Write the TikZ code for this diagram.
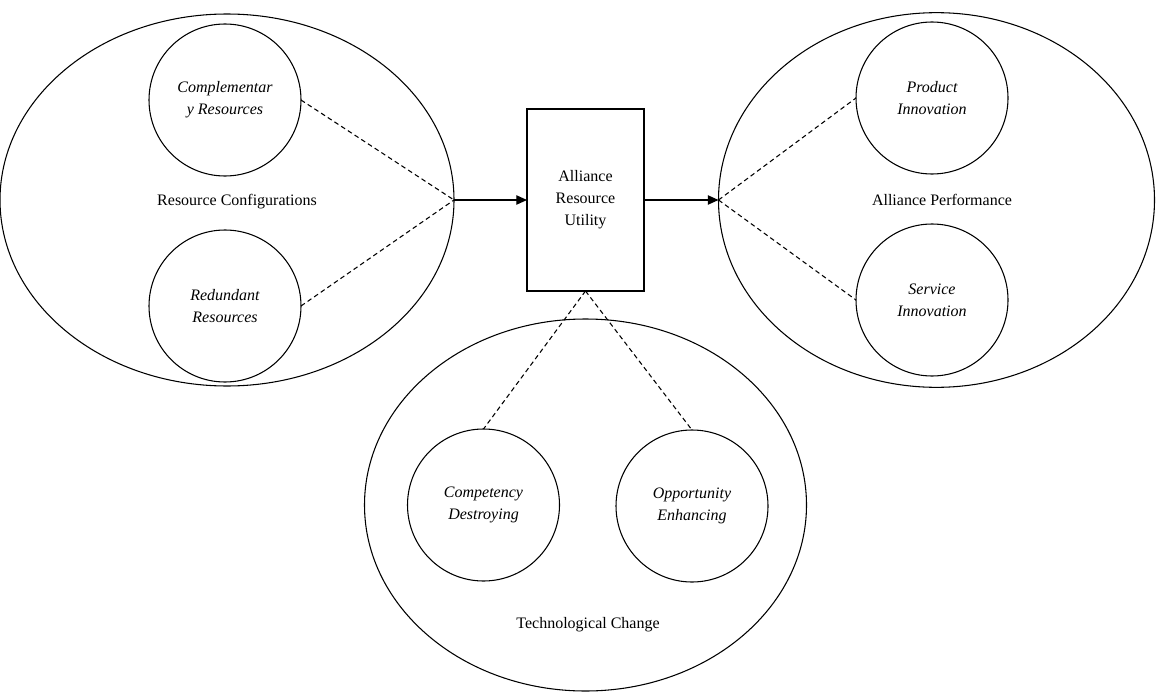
\documentclass[tikz,border=0pt]{standalone}
\usepackage{fontspec}
\setmainfont{Liberation Serif}
\usetikzlibrary{shapes.geometric,arrows.meta}

\tikzset{
  group/.style={draw, ellipse, line width=0.8pt, inner sep=0pt, outer sep=0pt},
  factor/.style={draw, circle, line width=0.8pt, minimum size=114pt, inner sep=0pt, outer sep=0pt, align=center, font=\fontsize{12}{16.5}\selectfont\itshape},
  link/.style={dashed, dash pattern=on 3.5pt off 2.5pt, line width=0.8pt},
  flow/.style={-{Triangle[length=8pt,width=7pt]}, line width=0.9pt}
}

\begin{document}
\begin{tikzpicture}[x=0.75pt, y=-0.75pt, every node/.style={font=\fontsize{12}{16.5}\selectfont}]
    \useasboundingbox (0,0) rectangle (1156,692);

    \node[group, minimum width=340.5pt, minimum height=279pt] (rescfg) at (227,200) {};
    \node[group, minimum width=327pt, minimum height=281pt] (perf) at (936.5,200) {};
    \node[group, minimum width=331.5pt, minimum height=279pt] (tech) at (585.5,505) {};

    \node[draw, rectangle, line width=1pt, minimum width=87.75pt, minimum height=136.5pt, outer sep=0pt, align=center] (util) at (585.5,200) {Alliance\\Resource\\Utility};

    \node[factor] (compl) at (225,100) {Complementar\\y Resources};
    \node[factor] (redund) at (225,306) {Redundant\\Resources};
    \node[factor] (prod) at (932,98) {Product\\Innovation};
    \node[factor] (serv) at (932,300) {Service\\Innovation};
    \node[factor] (compd) at (483.5,505) {Competency\\Destroying};
    \node[factor] (oppe) at (692,506) {Opportunity\\Enhancing};

    \node (rescfglbl) at (237,202) {Resource Configurations};
    \node (perflbl) at (942,200) {Alliance Performance};
    \node (techlbl) at (588,625) {Technological Change};

    \draw[link] (compl.east) -- (rescfg.east);
    \draw[link] (redund.east) -- (rescfg.east);
    \draw[link] (perf.west) -- (prod.west);
    \draw[link] (perf.west) -- (serv.west);
    \draw[link] (util.south) -- (compd.north);
    \draw[link] (util.south) -- (oppe.north);

    \draw[flow] (rescfg.east) -- (util.west);
    \draw[flow] (util.east) -- (perf.west);
\end{tikzpicture}
\end{document}
